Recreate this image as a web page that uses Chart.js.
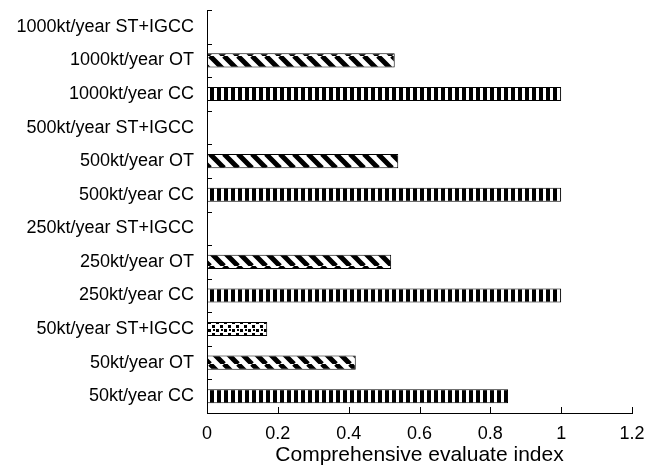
<!DOCTYPE html>
<html>
<head>
<meta charset="utf-8">
<script src="https://cdn.jsdelivr.net/npm/chart.js@4.4.1/dist/chart.umd.min.js"></script>
<style>
  html, body { margin: 0; padding: 0; background: #fff; }
  #wrap { width: 661px; height: 474px; position: relative; }
</style>
</head>
<body>
<div id="wrap"><canvas id="c" width="661" height="474"></canvas></div>
<script>
// Categories listed top to bottom
const categories = [
  '1000kt/year ST+IGCC', '1000kt/year OT', '1000kt/year CC',
  '500kt/year ST+IGCC', '500kt/year OT', '500kt/year CC',
  '250kt/year ST+IGCC', '250kt/year OT', '250kt/year CC',
  '50kt/year ST+IGCC', '50kt/year OT', '50kt/year CC'
];
const ccValues = [null, null, 1.0, null, null, 1.0, null, null, 1.0, null, null, 0.85];
const otValues = [null, 0.53, null, null, 0.54, null, null, 0.52, null, null, 0.42, null];
const stValues = [null, null, null, null, null, null, null, null, null, 0.17, null, null];
const xTickValues = [0, 0.2, 0.4, 0.6, 0.8, 1, 1.2];
const xTitle = 'Comprehensive evaluate index';

function makePattern(kind) {
  const c = document.createElement('canvas');
  const g = c.getContext('2d');
  if (kind === 'vertical') {
    c.width = 7; c.height = 7;
    g.fillStyle = '#fff'; g.fillRect(0, 0, 7, 7);
    g.fillStyle = '#000'; g.fillRect(0, 0, 4, 7);
  } else if (kind === 'diagonal') {
    const s = 14;
    c.width = s; c.height = s;
    g.fillStyle = '#fff'; g.fillRect(0, 0, s, s);
    g.strokeStyle = '#000'; g.lineWidth = 5;
    g.beginPath();
    for (let k = -1; k <= 1; k++) {
      g.moveTo(k * s, 0); g.lineTo(k * s + s, s);
    }
    g.stroke();
  } else {
    c.width = 8; c.height = 8;
    g.fillStyle = '#fff'; g.fillRect(0, 0, 8, 8);
    g.fillStyle = '#000';
    g.fillRect(0, 1, 3, 3);
    g.fillRect(4, 5, 3, 3);
    g.fillRect(5, 1, 2, 2);
  }
  return g.createPattern(c, 'repeat');
}

const inwardTicks = {
  id: 'inwardTicks',
  afterDraw(chart) {
    const ctx = chart.ctx;
    const xs = chart.scales.x, ys = chart.scales.y;
    const a = chart.chartArea;
    ctx.save();
    ctx.strokeStyle = '#000';
    ctx.lineWidth = 1;
    ctx.beginPath();
    xTickValues.forEach(v => {
      const px = Math.round(xs.getPixelForValue(v)) + 0.5;
      ctx.moveTo(px, a.bottom);
      ctx.lineTo(px, a.bottom - 6);
    });
    for (let i = 0; i < categories.length; i++) {
      const py = Math.round(ys.getPixelForValue(i - 0.5)) + 0.5;
      ctx.moveTo(a.left, py);
      ctx.lineTo(a.left + 5, py);
    }
    ctx.stroke();
    ctx.restore();
  }
};

const font = { family: 'Liberation Sans, Arial, sans-serif', size: 18 };

new Chart(document.getElementById('c'), {
  type: 'bar',
  data: {
    labels: categories,
    datasets: [
      { label: 'CC', data: ccValues, backgroundColor: makePattern('vertical') },
      { label: 'OT', data: otValues, backgroundColor: makePattern('diagonal') },
      { label: 'ST+IGCC', data: stValues, backgroundColor: makePattern('dots') }
    ].map(d => Object.assign(d, {
      borderColor: '#000', borderWidth: 1, borderSkipped: false,
      barPercentage: 0.42, categoryPercentage: 1.0, grouped: false
    }))
  },
  options: {
    indexAxis: 'y',
    responsive: false,
    animation: false,
    events: [],
    layout: { padding: { top: 10, right: 29, left: 0, bottom: 0 } },
    plugins: { legend: { display: false }, tooltip: { enabled: false } },
    scales: {
      x: {
        min: 0, max: 1.2,
        afterBuildTicks(scale) { scale.ticks = xTickValues.map(v => ({ value: v })); },
        grid: { display: false, drawTicks: false },
        border: { display: true, color: '#000', width: 1 },
        ticks: {
          color: '#000', font, padding: 10,
          callback: v => String(Math.round(v * 10) / 10)
        },
        title: { display: true, text: xTitle, color: '#000', font: { family: font.family, size: 21 }, padding: { top: 0, bottom: 6 } },
        afterFit(scale) { scale.height = 61; }
      },
      y: {
        offset: true,
        grid: { display: false, drawTicks: false },
        border: { display: true, color: '#000', width: 1 },
        ticks: { color: '#000', font, padding: 13, autoSkip: false },
        afterFit(scale) { scale.width = 207; scale.paddingTop = 0; scale.paddingBottom = 0; }
      }
    }
  },
  plugins: [inwardTicks]
});
</script>
</body>
</html>
